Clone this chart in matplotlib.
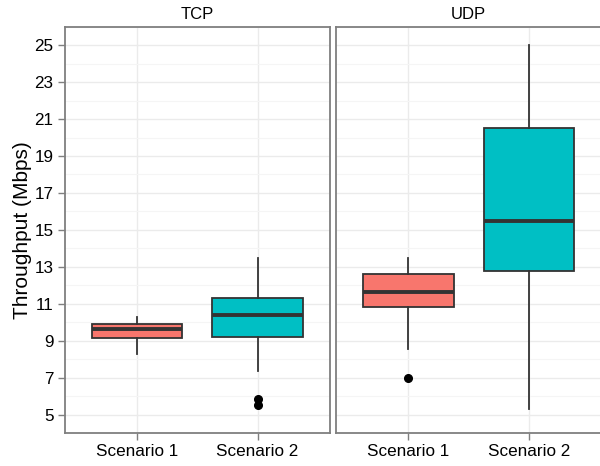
import matplotlib
matplotlib.use("Agg")
import matplotlib.pyplot as plt
import numpy as np

plt.rcParams['font.family'] = ['Liberation Sans', 'DejaVu Sans']

panels = ["TCP", "UDP"]
categories = ["Scenario 1", "Scenario 2"]
colors = ["#F8766D", "#00BFC4"]

# per panel, per category: whisker low, q1, median, q3, whisker high
whislo = {"TCP": [8.30, 7.35], "UDP": [8.54, 5.29]}
q1 = {"TCP": [9.14, 9.18], "UDP": [10.81, 12.76]}
med = {"TCP": [9.62, 10.40], "UDP": [11.61, 15.46]}
q3 = {"TCP": [9.90, 11.31], "UDP": [12.60, 20.50]}
whishi = {"TCP": [10.27, 13.47], "UDP": [13.49, 25.0]}
outliers = {"TCP": [[], [5.82, 5.52]], "UDP": [[6.99], []]}

yticks = [5, 7, 9, 11, 13, 15, 17, 19, 21, 23, 25]
yminor = [4, 6, 8, 10, 12, 14, 16, 18, 20, 22, 24, 26]

W, H = 600, 466
fig = plt.figure(figsize=(W / 100, H / 100), dpi=100)

left0 = 64.5
pw = 265.5
top = 26.7
bottom = 433.0
lefts = [left0, 336.0]

border = "#7f7f7f"
for i, p in enumerate(panels):
    ax = fig.add_axes([lefts[i] / W, (H - bottom) / H, pw / W, (bottom - top) / H])
    stats = []
    for j in range(2):
        stats.append(dict(whislo=whislo[p][j], q1=q1[p][j], med=med[p][j],
                          q3=q3[p][j], whishi=whishi[p][j], fliers=outliers[p][j]))
    bp = ax.bxp(stats, positions=[1, 2], widths=0.75, patch_artist=True,
                showcaps=False,
                boxprops=dict(edgecolor="#333333", linewidth=1.3),
                medianprops=dict(color="#333333", linewidth=2.8, solid_capstyle="butt"),
                whiskerprops=dict(color="#333333", linewidth=1.3),
                flierprops=dict(marker="o", markerfacecolor="black", markeredgecolor="black",
                                markersize=5.5, linestyle="none"))
    for patch, c in zip(bp["boxes"], colors):
        patch.set_facecolor(c)
    ax.set_xlim(0.4, 2.6)
    ax.set_ylim(4.28, 25.98)
    ax.set_xticks([1, 2])
    ax.set_xticklabels(categories, fontsize=12.3)
    ax.set_yticks(yticks)
    ax.set_yticks(yminor, minor=True)
    ax.grid(which="major", color="#ebebeb", linewidth=1.0)
    ax.grid(which="minor", axis="y", color="#f5f5f5", linewidth=0.8)
    ax.set_axisbelow(True)
    ax.tick_params(which="minor", length=0)
    ax.tick_params(which="major", length=5, width=1.0, color=border, labelcolor="black",
                   labelsize=12.3, pad=3)
    for s in ax.spines.values():
        s.set_color(border)
        s.set_linewidth(1.3)
    if i == 0:
        ax.set_ylabel("Throughput (Mbps)", fontsize=15, labelpad=2)
    else:
        ax.tick_params(axis="y", labelleft=False, length=0)
    ax.set_title(p, fontsize=12, pad=5.7)

fig.savefig("out.png", dpi=100)
